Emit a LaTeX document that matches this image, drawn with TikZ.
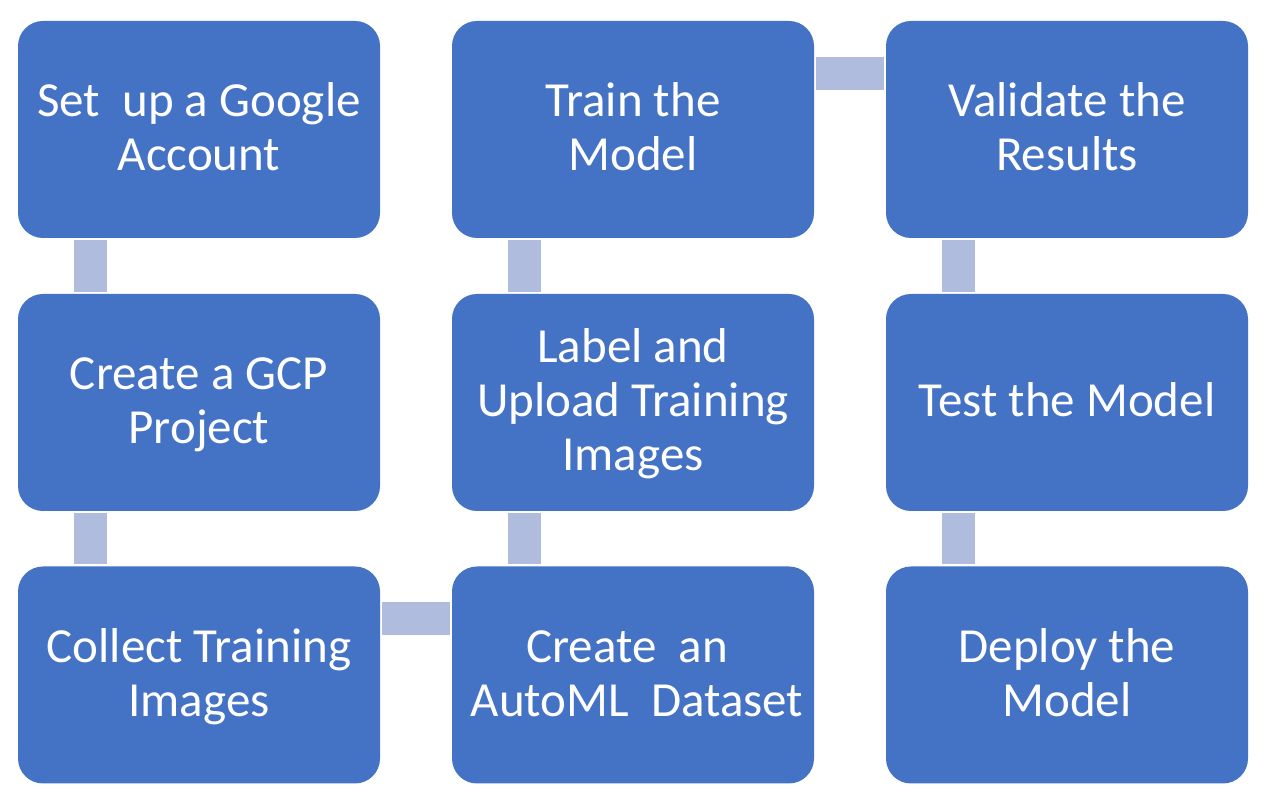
\documentclass[tikz,border=0pt]{standalone}
\usepackage{fontspec}
\setmainfont{Carlito}
\definecolor{boxblue}{HTML}{4472C4}
\definecolor{connblue}{HTML}{B0BCDE}
\newcommand{\lstrut}{\rule[-12.5pt]{0pt}{54pt}}
\begin{document}
\begin{tikzpicture}[x=1pt,y=1pt,
  stepbox/.style={fill=boxblue, draw=none, rounded corners=25pt,
    minimum width=362pt, minimum height=217pt, inner sep=0pt,
    align=center, text=white, font=\fontsize{49}{54}\selectfont},
  conn/.style={draw=connblue, line width=33pt, shorten <=2pt, shorten >=2pt}]
\useasboundingbox (0,0) rectangle (1266,805);
\fill[white] (0,0) rectangle (1266,805);
\node[stepbox] (a) at (199,675.5) {\lstrut Set\ \ up a Google\\\lstrut Account};
\node[stepbox] (b) at (199,402.5) {\lstrut Create a GCP\\\lstrut Project};
\node[stepbox] (c) at (199,130) {\lstrut Collect Training\\\lstrut Images};
\node[stepbox] (d) at (633,130) {\lstrut Create\ \ an\hspace*{12pt}\\\lstrut\hspace*{8pt}AutoML\ \ Dataset};
\node[stepbox] (e) at (633,402.5) {\lstrut Label and\\\lstrut Upload Training\\\lstrut Images};
\node[stepbox] (f) at (633,675.5) {\lstrut Train the\\\lstrut Model};
\node[stepbox] (g) at (1067,675.5) {\lstrut Validate the\\\lstrut Results};
\node[stepbox] (h) at (1067,402.5) {\lstrut Test the Model};
\node[stepbox] (i) at (1067,130) {\lstrut Deploy the\\\lstrut Model};
\draw[conn] ([xshift=72.5pt]a.south west) -- ([xshift=72.5pt]b.north west);
\draw[conn] ([xshift=72.5pt]b.south west) -- ([xshift=72.5pt]c.north west);
\draw[conn] ([yshift=-52.5pt]c.north east) -- ([yshift=-52.5pt]d.north west);
\draw[conn] ([xshift=72.5pt]d.north west) -- ([xshift=72.5pt]e.south west);
\draw[conn] ([xshift=72.5pt]e.north west) -- ([xshift=72.5pt]f.south west);
\draw[conn] ([yshift=-52.5pt]f.north east) -- ([yshift=-52.5pt]g.north west);
\draw[conn] ([xshift=72.5pt]g.south west) -- ([xshift=72.5pt]h.north west);
\draw[conn] ([xshift=72.5pt]h.south west) -- ([xshift=72.5pt]i.north west);
\end{tikzpicture}
\end{document}
